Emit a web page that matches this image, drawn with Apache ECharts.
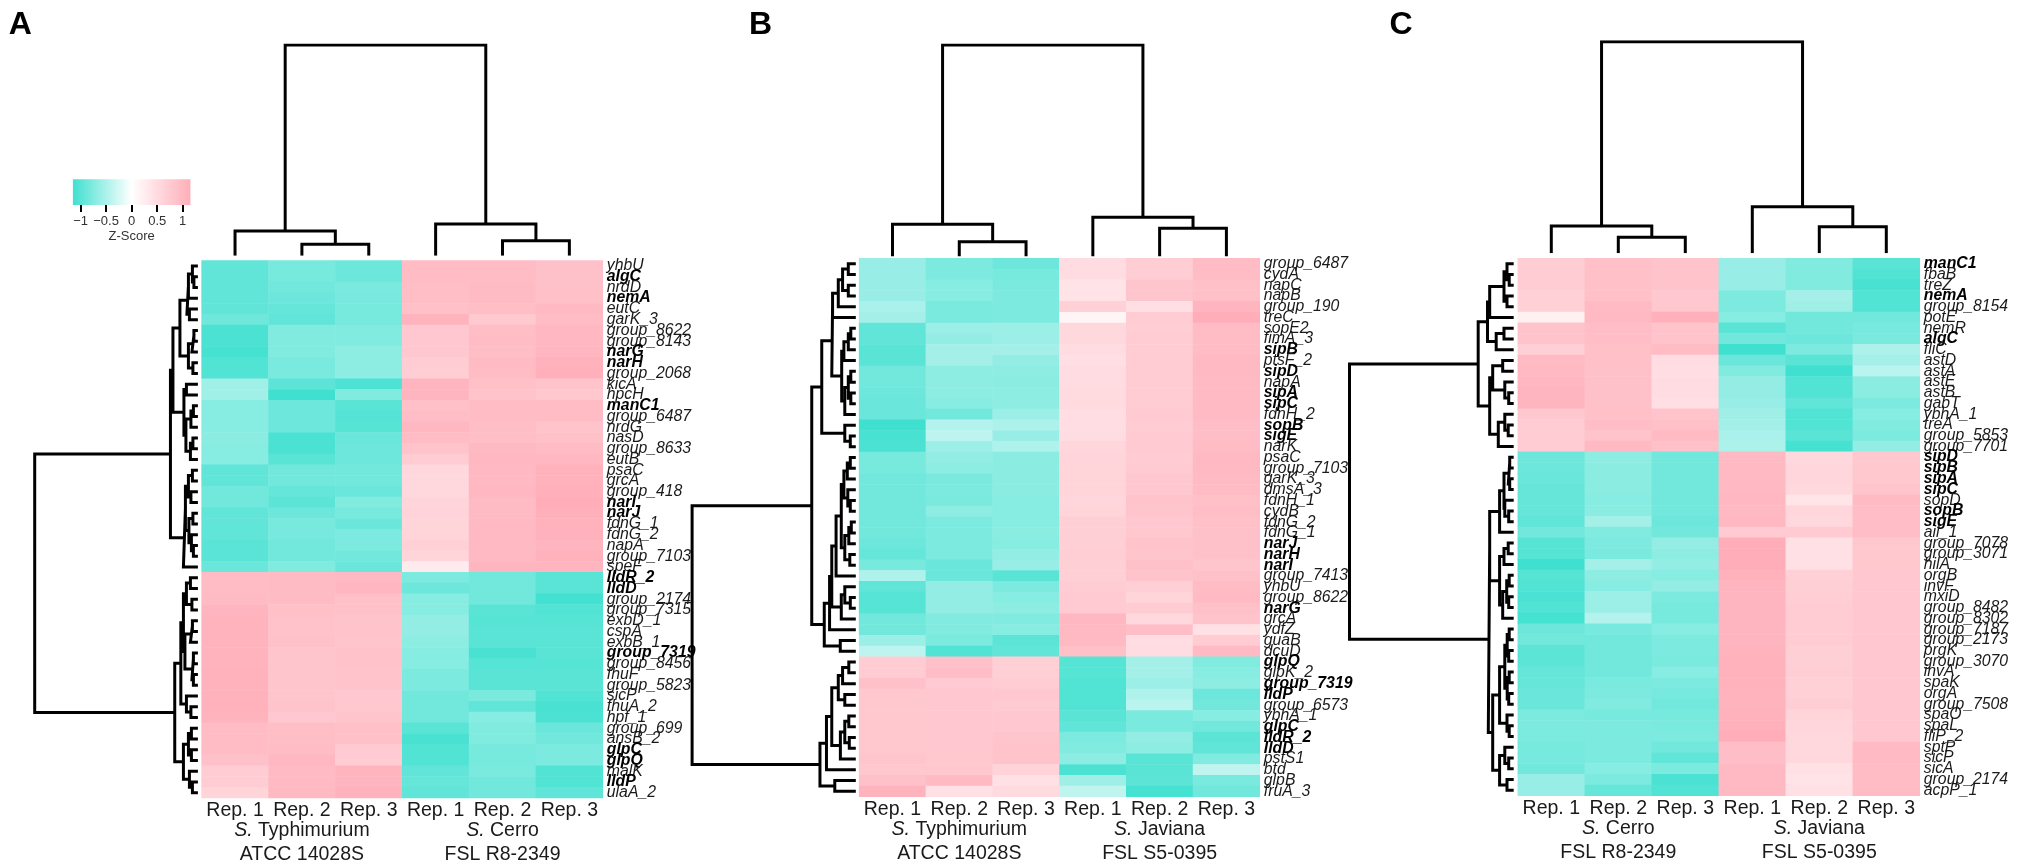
<!DOCTYPE html>
<html><head><meta charset="utf-8">
<style>html,body{margin:0;padding:0;background:#fff}#c{width:2017px;height:867px}</style>
<script src="https://cdn.jsdelivr.net/npm/echarts@6/dist/echarts.min.js"></script>
</head><body><div id="c"></div>
<script>
const repLabels=['Rep. 1','Rep. 2','Rep. 3','Rep. 1','Rep. 2','Rep. 3'];
const boldGenes=['algC','nemA','narG','narH','manC1','narI','narJ','lldR_2','lldD','group_7319','glpC','glpQ','lldP','sipA','sipB','sipC','sipD','sopB','sigE'];

const genesA=['yhbU','algC','nrdD','nemA','eutC','garK_3','group_8622','group_8143','narG','narH','group_2068','kicA','hpcH','manC1','group_6487','nrdG','nasD','group_8633','eutB','psaC','grcA','group_418','narI','narJ','fdnG_1','fdnG_2','napA','group_7103','speF','lldR_2','lldD','group_2174','group_7315','exbD_1','cspA','exbB_1','group_7319','group_8456','fhuF','group_5823','sicP','fhuA_2','hpf_1','group_699','ansB_2','glpC','glpQ','malK','lldP','ulaA_2'];
const genesB=['group_6487','cydA','napC','napB','group_190','treC','sopE2','fimA_3','sipB','ptsF_2','sipD','napA','sipA','sipC','fdnH_2','sopB','sigE','narK','psaC','group_7103','garK_3','dmsA_3','fdnH_1','cydB','fdnG_2','fdnG_1','narJ','narH','narI','group_7413','yhbU','group_8622','narG','grcA','ydfZ','guaB','dcuD','glpQ','glpK_2','group_7319','lldP','group_6573','ybhA_1','glpC','lldR_2','lldD','pstS1','btd','glpB','fruA_3'];
const genesC=['manC1','fbaB','treZ','nemA','group_8154','potE','nemR','algC','fliC','astD','astA','astE','astB','gabT','ybhA_1','treA','group_5853','group_7701','sipD','sipB','sipA','sipC','sopD','sopB','sigE','ail_1','group_7078','group_3071','hilA','orgB','invF','mxiD','group_8482','group_8302','group_7187','group_2173','prgK','group_3070','invA','spaK','orgA','group_7508','spaO','spaL','fliP_2','sptP','sicP','sicA','group_2174','acpP_1'];

const strainsA=['{i|S.}{n| Typhimurium}\n{n|ATCC 14028S}','{i|S.}{n| Cerro}\n{n|FSL R8-2349}'];
const strainsB=['{i|S.}{n| Typhimurium}\n{n|ATCC 14028S}','{i|S.}{n| Javiana}\n{n|FSL S5-0395}'];
const strainsC=['{i|S.}{n| Cerro}\n{n|FSL R8-2349}','{i|S.}{n| Javiana}\n{n|FSL S5-0395}'];

const zA=[
[-.95,-.82,-.88,.95,.95,.88],[-.95,-.82,-.88,.95,.95,.88],[-.95,-.85,-.8,.93,.97,.88],[-.95,-.88,-.82,.93,.97,.9],[-.95,-.92,-.82,.9,.93,1],
[-.87,-.95,-.82,1.08,.77,.95],[-1.08,-.75,-.75,.78,.93,1.02],[-1.08,-.75,-.75,.78,.95,1.02],[-1.12,-.76,-.68,.78,.93,1.03],[-1.05,-.8,-.68,.72,.97,1.1],
[-1.05,-.8,-.68,.7,.95,1.12],[-.57,-.98,-1.07,1.05,.9,.85],[-.57,-1.15,-.75,1.05,.85,.8],[-.72,-.88,-1,.9,.95,.95],[-.72,-.88,-1.03,.92,.95,.95],
[-.72,-.88,-1.02,1.02,.93,.85],[-.7,-1.08,-.9,.95,.93,.9],[-.72,-1.08,-.88,.85,1,.95],[-.72,-1,-.88,.72,1.02,1.02],[-.95,-.85,-.85,.55,1,1.1],
[-.95,-.85,-.85,.55,1,1.1],[-.85,-.92,-.9,.55,1.02,1.12],[-.85,-.98,-.75,.6,.97,1.15],[-.95,-.88,-.82,.62,.97,1.12],[-.95,-.82,-.9,.6,1,1.1],
[-.95,-.82,-.78,.6,1,1.1],[-1,-.85,-.78,.65,1,1.05],[-1,-.85,-.85,.6,1,1.1],[-.9,-.75,-.9,.28,1.05,1.05],
[.95,.97,1,-.78,-.85,-1],[.95,.97,1.03,-.88,-.85,-1],[.97,.97,.9,-.72,-.85,-1.13],[1.05,.9,.88,-.72,-1,-1.05],[1.08,.87,.85,-.65,-1.02,-1.02],
[1.08,.87,.85,-.65,-1,-1],[1.08,.88,.83,-.68,-1,-1],[1.08,.82,.87,-.72,-1.1,-1],[1.08,.82,.87,-.72,-1.02,-1.02],[1.1,.82,.85,-.78,-1,-1],
[1.1,.82,.85,-.78,-1,-1],[1.1,.82,.78,-.85,-.8,-1.05],[1.1,.85,.8,-.85,-.95,-1.1],[1.08,.78,.82,-.85,-.72,-1.08],[.95,.93,.9,-1,-.75,-.9],
[.95,.93,.9,-1.1,-.75,-.85],[.95,.95,.75,-1.05,-.82,-.78],[.88,1.02,.72,-1.05,-.82,-.78],[.72,.98,1.07,-.95,-.8,-1.05],[.72,.98,1.05,-.92,-.85,-1.05],[.6,1,1.1,-.95,-.85,-.95]];
const zB=[
[-.62,-.78,-.88,.5,.7,.95],[-.62,-.78,-.82,.5,.7,.95],[-.62,-.72,-.8,.4,.82,.9],[-.62,-.72,-.78,.4,.82,.9],[-.52,-.8,-.78,.65,.45,1.05],
[-.55,-.8,-.78,.15,.72,1.15],[-.95,-.6,-.6,.55,.7,.95],[-.95,-.65,-.6,.55,.72,.95],[-1,-.55,-.55,.5,.72,.95],[-1,-.55,-.65,.45,.72,1],
[-.85,-.68,-.68,.5,.72,1],[-.85,-.68,-.7,.5,.72,.98],[-.88,-.68,-.68,.52,.72,.98],[-.9,-.72,-.68,.52,.72,.98],[-.9,-.85,-.6,.48,.75,.98],
[-1.15,-.45,-.5,.48,.72,.92],[-1.1,-.4,-.62,.5,.75,.92],[-1.08,-.6,-.48,.58,.75,.95],[-.82,-.65,-.7,.6,.72,1],[-.82,-.68,-.7,.6,.75,1],
[-.85,-.8,-.7,.6,.78,.98],[-.85,-.78,-.7,.6,.78,.95],[-.85,-.8,-.72,.58,.85,.9],[-.85,-.68,-.72,.6,.82,.92],[-.85,-.78,-.72,.68,.78,.9],
[-.85,-.78,-.7,.68,.8,.88],[-.88,-.78,-.72,.68,.85,.88],[-.92,-.78,-.65,.7,.82,.88],[-.82,-.9,-.62,.68,.88,.82],[-.48,-.9,-1,.68,.85,.88],
[-.95,-.65,-.78,.72,.68,.95],[-1.02,-.65,-.72,.75,.6,.98],[-1.02,-.65,-.68,.75,.72,.88],[-.85,-.75,-.75,1.02,.55,.85],[-.85,-.75,-.72,1,.92,.42],
[-.6,-.78,-.98,1,.48,.72],[-.4,-1.05,-.95,.9,.5,.98],
[.72,.88,.68,-1.02,-.55,-.75],[.72,.92,.68,-1.02,-.55,-.72],[.88,.75,.72,-1.05,-.6,-.68],[.8,.78,.78,-1.05,-.48,-.88],[.8,.78,.75,-1.05,-.42,-.85],
[.8,.78,.78,-1,-.8,-.72],[.8,.78,.78,-.95,-.8,-.85],[.8,.78,.82,-.78,-.65,-.98],[.8,.78,.85,-.75,-.68,-.95],[.82,.8,.85,-.68,-1,-.75],
[.8,.8,.62,-1.08,-1,-.38],[.88,.98,.42,-.58,-.98,-.8],[1.08,.42,.52,-.38,-1.12,-.85]];
const zC=[
[.7,.9,.85,-.62,-.75,-1],[.72,.9,.85,-.62,-.75,-1.05],[.72,.9,.85,-.62,-.75,-1.1],[.65,.9,.78,-.78,-.55,-1.05],[.65,.98,.8,-.78,-.58,-1.05],
[.22,1,1.12,-.72,-.85,-.85],[.85,.92,.85,-1,-.85,-.82],[.85,.92,.85,-.85,-.88,-.8],[.68,.9,.95,-1.15,-.78,-.5],[.98,.9,.5,-.9,-1,-.55],
[1,.88,.48,-.75,-1.15,-.42],[1.02,.88,.5,-.65,-1.05,-.7],[1.05,.88,.5,-.65,-1.05,-.7],[1.05,.88,.45,-.62,-.95,-.78],[.8,.9,.85,-.58,-1.05,-.72],
[.72,.92,.9,-.55,-1.05,-.75],[.72,.85,.98,-.52,-1,-.78],[.72,1,.88,-.5,-1.12,-.65],
[-.88,-.68,-.85,1,.55,.8],[-.88,-.7,-.85,1,.58,.8],[-.9,-.7,-.85,1,.58,.8],[-.92,-.7,-.85,1,.55,.82],[-.92,-.72,-.85,1.02,.38,.98],
[-.92,-.7,-.85,1,.58,.92],[-.95,-.55,-.88,1.02,.55,.92],[-.85,-.75,-.85,.75,.75,.92],[-1.02,-.78,-.65,1.15,.42,.8],[-1.02,-.8,-.68,1.15,.42,.8],
[-1.15,-.55,-.65,1.15,.42,.8],[-1.02,-.68,-.72,1.1,.65,.78],[-1.05,-.72,-.65,1.05,.68,.78],[-1.08,-.6,-.78,1.05,.7,.78],[-1.05,-.6,-.82,1.05,.72,.78],
[-1.12,-.45,-.82,1.05,.72,.78],[-.88,-.82,-.72,1.05,.72,.78],[-.85,-.85,-.78,1.05,.72,.78],[-.98,-.85,-.78,1.08,.68,.78],[-.98,-.85,-.8,1.1,.68,.78],
[-.92,-.85,-.72,1.1,.7,.78],[-.92,-.8,-.78,1.1,.65,.78],[-.9,-.78,-.82,1.08,.65,.78],[-.9,-.75,-.85,1.08,.7,.78],[-.78,-.82,-.82,1.1,.6,.78],
[-.78,-.78,-.8,1.12,.58,.78],[-.78,-.78,-.78,1.15,.55,.78],[-.82,-.78,-.85,.92,.55,.98],[-.82,-.78,-.95,.92,.55,.98],[-.85,-.72,-.78,1,.42,.95],
[-.62,-.78,-1.08,1,.4,.95],[-.62,-.92,-1.05,1,.42,.95]];

// Dendrograms: [height, child, child]; a bare number is a leaf (row or column index).
const colTreeA=[209.3,[23.3,0,[10,1,2]],[30.3,3,[13.6,4,5]]];
const colTreeB=[210,[30.7,0,[13.3,1,2]],[37.7,3,[26.7,4,5]]];
const colTreeC=[210,[25.7,0,[14.4,1,2]],[45,3,[25,4,5]]];

const rowTreeA=[162,
 [26,[23.5,[16.5,[9.5,[8,[4,0,[2.5,1,2]],3],[7,4,5]],[8,[4.5,[2.5,6,7],8],[3.5,9,10]]],
      [12.5,[10,11,12],[10.5,[5.5,[3,13,14],15],[6,[3.5,16,17],18]]]],
     [13,[11,[8,[4,19,20],[5.5,21,22]],[7.5,[3.5,23,24],[5,25,[3,26,27]]]],28]],
 [21.7,[15.6,[13,[10,[6,29,30],[4.5,31,32]],[11.5,[6,[4,33,34],35],[4.5,[3,36,37],[3,38,39]]]],[10,40,[5.5,41,42]]],
       [13,[8,[5,43,44],[5,45,46]],[7,47,[4,48,49]]]]];
const rowTreeB=[162,
 [42.5,[32.5,[22.5,[21.7,[16,[11.7,[6,0,1],[6,2,3]],4],5],
             [12.6,[10.4,[6,[3.5,6,7],8],9],[9.5,[6,[3.5,10,11],[3.5,12,13]],14]]],
        [9.5,15,[4,16,17]]],
       [30,[24.7,[22.5,[18.2,[13,[10.4,[7,[4,18,19],20],[6.5,21,[4,22,23]]],[9.5,[5.5,[3,24,25],26],[4.5,27,28]]],29],
                  [13,[9.5,30,[4,31,32]],33]],34],[14,35,36]]],
 [34.3,[27.8,[22.5,[16,[11.7,[5.5,37,38],39],[9.5,40,41]],[13.9,[9.5,[5.5,42,43],[5,44,45]],46]],47],[19.5,48,49]]];
const rowTreeC=[162.6,
 [34,[24.7,[22.5,[8.2,[5.2,0,[3,1,2]],[5.2,3,4]],5],[16,[8.2,6,7],8]],
     [22.5,[19.5,[9.5,9,10],[7.4,11,[3.5,12,13]]],[13.9,[7.4,14,[4,15,16]],17]]],
 [23.9,[22.5,[12.6,[8.2,[3.9,[2.5,18,19],[2.5,20,21]],[7.4,22,[3.5,23,24]]],25],
             [12.6,[8.2,[4,26,27],28],[9.5,[5.5,[3,29,30],[3.5,31,32]],33]]],
       [19.5,[12.6,[7.4,[5,[3,34,35],[3.5,36,37]],[5,[3,38,39],[3.5,40,41]]],[5.2,42,[3,43,44]]],
             [12.6,[7.4,45,[3.5,46,47]],[5.2,48,49]]]]];

const legendMin=-1.15, legendMax=1.15, legendTicks=[-1,-.5,0,.5,1];
const teal='#40E0D0', pink='#FFAEB9';

const FONT='"Liberation Sans",Arial,sans-serif';
const panels=[
 {letter:'A',lx:8.7,genes:genesA,z:zA,strains:strainsA,colTree:colTreeA,rowTree:rowTreeA,hx:201.6,hw:401.2,hy:260.5,hh:537.5,rowLeft:34.7,rowRight:196.4,colTop:45,colBot:254.3},
 {letter:'B',lx:749,genes:genesB,z:zB,strains:strainsB,colTree:colTreeB,rowTree:rowTreeB,hx:859.1,hw:400.7,hy:258.3,hh:538.4,rowLeft:692.1,rowRight:854.3,colTop:45,colBot:255},
 {letter:'C',lx:1389.5,genes:genesC,z:zC,strains:strainsC,colTree:colTreeC,rowTree:rowTreeC,hx:1517.8,hw:402,hy:258.3,hh:537.4,rowLeft:1349.5,rowRight:1512.2,colTop:41.7,colBot:251.7}
];

// Walk a tree and output elbow polylines; gap entries break the line.
function elbows(tree,horizontal){
 const out=[];
 const pt=(pos,h)=>horizontal?[h,pos]:[pos,h];
 (function walk(n){
  if(typeof n==='number') return {pos:n+.5,h:0};
  const a=walk(n[1]),b=walk(n[2]);
  out.push(pt(a.pos,a.h),pt(a.pos,n[0]),pt(b.pos,n[0]),pt(b.pos,b.h),['-','-']);
  return {pos:(a.pos+b.pos)/2,h:n[0]};
 })(tree);
 return out;
}

const grid=[],xAxis=[],yAxis=[],series=[],title=[],heatIdx=[];
const lineStyle={color:'#000',width:3,cap:'square',join:'miter'};
const hiddenValue=(o)=>Object.assign({type:'value',show:false,scale:false},o);
panels.forEach(p=>{
 title.push({text:p.letter,left:p.lx,top:9,padding:0,textStyle:{fontFamily:FONT,fontSize:32,fontWeight:'bold',color:'#000'}});
 // heatmap
 const g=grid.length;
 grid.push({left:p.hx,top:p.hy,width:p.hw,height:p.hh});
 const xi=xAxis.length,yi=yAxis.length;
 xAxis.push({type:'category',gridIndex:g,data:repLabels,axisLine:{show:false},axisTick:{show:false},splitLine:{show:false},
   axisLabel:{interval:0,margin:3,fontFamily:FONT,fontSize:19.5,color:'#1a1a1a'}});
 xAxis.push({type:'category',gridIndex:g,position:'bottom',data:p.strains,axisLine:{show:false},axisTick:{show:false},splitLine:{show:false},
   axisLabel:{interval:0,margin:21,lineHeight:24,formatter:v=>v,rich:{
     i:{fontFamily:FONT,fontSize:19.5,fontStyle:'italic',color:'#1a1a1a',lineHeight:24},
     n:{fontFamily:FONT,fontSize:19.5,color:'#1a1a1a',lineHeight:24}}}});
 yAxis.push({type:'category',gridIndex:g,inverse:true,position:'right',data:p.genes,axisLine:{show:false},axisTick:{show:false},splitLine:{show:false},
   axisLabel:{interval:0,margin:4,align:'left',formatter:v=>(boldGenes.includes(v)?'{b|':'{i|')+v+'}',rich:{
     i:{fontFamily:FONT,fontSize:15.8,fontStyle:'italic',color:'#1a1a1a'},
     b:{fontFamily:FONT,fontSize:15.8,fontStyle:'italic',fontWeight:'bold',color:'#000'}}}});
 const cells=[];
 p.z.forEach((row,r)=>row.forEach((v,c)=>cells.push([c,r,v])));
 heatIdx.push(series.length);
 series.push({type:'heatmap',xAxisIndex:xi,yAxisIndex:yi,data:cells,progressive:0,emphasis:{disabled:true},itemStyle:{borderWidth:0}});
 // column dendrogram
 const g2=grid.length;
 grid.push({left:p.hx,top:p.colTop,width:p.hw,height:p.colBot-p.colTop});
 const xi2=xAxis.length,yi2=yAxis.length;
 xAxis.push(hiddenValue({gridIndex:g2,min:0,max:6}));
 yAxis.push(hiddenValue({gridIndex:g2,min:0,max:p.colTree[0]}));
 series.push({type:'line',xAxisIndex:xi2,yAxisIndex:yi2,data:elbows(p.colTree,false),symbol:'none',connectNulls:false,lineStyle,silent:true});
 // row dendrogram
 const g3=grid.length;
 grid.push({left:p.rowLeft,top:p.hy,width:p.rowRight-p.rowLeft,height:p.hh});
 const xi3=xAxis.length,yi3=yAxis.length;
 xAxis.push(hiddenValue({gridIndex:g3,min:0,max:p.rowTree[0],inverse:true}));
 yAxis.push(hiddenValue({gridIndex:g3,min:0,max:p.genes.length,inverse:true}));
 series.push({type:'line',xAxisIndex:xi3,yAxisIndex:yi3,data:elbows(p.rowTree,true),symbol:'none',connectNulls:false,lineStyle,silent:true});
});
// colour key
const gk=grid.length;
grid.push({left:72.9,top:179.3,width:117.5,height:25.7});
const xk=xAxis.length,yk=yAxis.length;
xAxis.push({type:'value',gridIndex:gk,min:legendMin,max:legendMax,splitLine:{show:false},axisLine:{show:false},
  axisTick:{show:true,length:7,lineStyle:{color:'#000',width:2},customValues:legendTicks},
  axisLabel:{margin:10,fontFamily:FONT,fontSize:13,color:'#333',customValues:legendTicks,formatter:v=>String(v).replace('-','\u2212')},
  name:'Z-Score',nameLocation:'middle',nameGap:25,nameTextStyle:{fontFamily:FONT,fontSize:13,color:'#333'}});
yAxis.push({type:'category',gridIndex:gk,data:['key'],show:false});
series.push({type:'bar',xAxisIndex:xk,yAxisIndex:yk,data:[legendMin],barWidth:'100%',barGap:'-100%',silent:true,
  itemStyle:{color:new echarts.graphic.LinearGradient(0,0,1,0,[{offset:0,color:teal},{offset:1,color:'#fff'}])}});
series.push({type:'bar',xAxisIndex:xk,yAxisIndex:yk,data:[legendMax],barWidth:'100%',barGap:'-100%',silent:true,
  itemStyle:{color:new echarts.graphic.LinearGradient(0,0,1,0,[{offset:0,color:'#fff'},{offset:1,color:pink}])}});

const chart=echarts.init(document.getElementById('c'),null,{renderer:'canvas'});
chart.setOption({animation:false,backgroundColor:'#fff',tooltip:{show:false},title,grid,xAxis,yAxis,series,
 visualMap:{type:'continuous',show:false,min:legendMin,max:legendMax,seriesIndex:heatIdx,inRange:{color:[teal,'#ffffff',pink]}}});
</script></body></html>
